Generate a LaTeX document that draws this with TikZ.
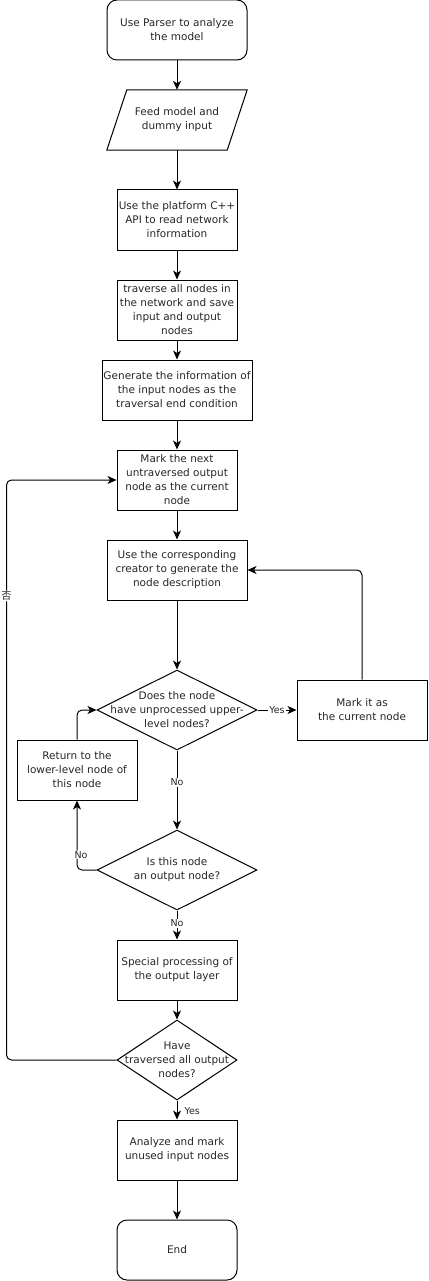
\documentclass[tikz,border=0pt]{standalone}
\usepackage{fontspec}
\setmainfont{DejaVu Sans}
\newfontfamily\cjk{Noto Sans CJK SC}
\usetikzlibrary{shapes.geometric,arrows.meta,calc}

\begin{document}
\begin{tikzpicture}[x=1pt,y=-1pt,
  every node/.style={font=\fontsize{10.5}{14}\selectfont, text=black!85},
  box/.style={draw, line width=1pt, align=center, inner sep=1pt,
              minimum width=#1, minimum height=60},
  box/.default=120,
  term/.style={box=#1, rounded corners=10},
  term/.default=120,
  decision/.style={draw, diamond, line width=1pt, minimum width=#1,
                   minimum height=80, inner sep=0pt},
  decision/.default=160,
  dtext/.style={align=center, inner sep=0pt},
  link/.style={draw, line width=1pt, -{Stealth[length=9pt,width=8pt,inset=2.5pt]}},
  lab/.style={fill=white, inner sep=1pt, font=\fontsize{9.5}{11}\selectfont},
]
\useasboundingbox (0,0) rectangle (428,1281);

% main column
\node[term=140] (start) at (177,30) {Use Parser to analyze\\the model};
\node[minimum width=140, minimum height=60, align=center, inner sep=1pt] (feed) at (177,120) {Feed model and\\dummy input};
\draw[line width=1pt] ($(feed.north west)+(20,0)$) -- (feed.north east)
  -- ($(feed.south east)+(-20,0)$) -- (feed.south west) -- cycle;
\node[box] (api) at (177,220) {Use the platform C++\\API to read network\\information};
\node[box] (trav) at (177,310) {traverse all nodes in\\the network and save\\input and output\\nodes};
\node[box=150] (gen) at (177,390) {Generate the information of\\the input nodes as the\\traversal end condition};
\node[box] (mark) at (177,480) {Mark the next\\untraversed output\\node as the current\\node};
\node[box=140] (create) at (177,570) {Use the corresponding\\creator to generate the\\node description};
\node[decision, label={[dtext]center:{Does the node\\have unprocessed upper-\\level nodes?}}] (q1) at (177,710) {};
\node[box=130] (cur) at (362,710) {Mark it as\\the current node};
\node[box] (ret) at (77,770) {Return to the\\lower-level node of\\this node};
\node[decision, label={[dtext]center:{Is this node\\an output node?}}] (q2) at (177,870) {};
\node[box] (spec) at (177,970) {Special processing of\\the output layer};
\node[decision=120, label={[dtext]center:{Have\\traversed all output\\nodes?}}] (q3) at (177,1060) {};
\node[box] (ana) at (177,1150) {Analyze and mark\\unused input nodes};
\node[term] (finish) at (177,1250) {End};

% connectors
\draw[link] (start) -- (feed);
\draw[link] (feed) -- (api);
\draw[link] (api) -- (trav);
\draw[link] (trav) -- (gen);
\draw[link] (gen) -- (mark);
\draw[link] (mark) -- (create);
\draw[link] (create) -- (q1);
\draw[link] (q1) -- node[lab]{Yes} (cur);
\draw[link, rounded corners=5] (cur.north) |- (create.east);
\draw[link] (q1) -- node[lab, pos=0.4]{No} (q2);
\draw[link, rounded corners=5] (q2.west) -| node[lab, pos=0.61, xshift=4]{No} (ret.south);
\draw[link, rounded corners=5] (ret.north) |- (q1.west);
\draw[link] (q2) -- node[lab, pos=0.45]{No} (spec);
\draw[link] (spec) -- (q3);
\draw[link, rounded corners=5] (q3.west) -- ++(-110,0)
  |- node[lab, pos=0.4, font=\cjk\fontsize{10}{11}\selectfont]{否} (mark.west);
\draw[link] (q3) -- node[lab, anchor=west, pos=0.55, xshift=6]{Yes} (ana);
\draw[link] (ana) -- (finish);
\end{tikzpicture}
\end{document}
